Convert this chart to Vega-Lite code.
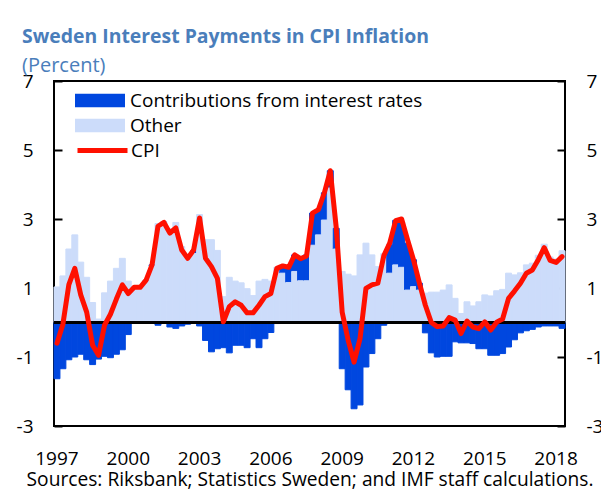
{
  "$schema": "https://vega.github.io/schema/vega-lite/v6.json",
  "width": 511,
  "height": 345,
  "autosize": "none",
  "padding": {"left": 54, "top": 81, "right": 36, "bottom": 65},
  "background": "white",
  "config": {
    "font": "Open Sans",
    "view": {"stroke": "black", "strokeWidth": 2},
    "axis": {"grid": false}
  },
  "title": {
    "text": "Sweden Interest Payments in CPI Inflation",
    "subtitle": "(Percent)",
    "anchor": "start",
    "frame": "group",
    "dx": -32,
    "offset": -5,
    "font": "Open Sans",
    "fontSize": 19.4,
    "fontWeight": "bold",
    "color": "#4A7EBB",
    "subtitleFont": "Open Sans",
    "subtitleFontSize": 20,
    "subtitleColor": "#4A7EBB",
    "subtitlePadding": 9
  },
  "data": {
    "values": [
      {"q": "1997Q1", "rates": -1.63, "other": 1.03, "cpi": -0.6},
      {"q": "1997Q2", "rates": -1.34, "other": 1.35, "cpi": -0.05},
      {"q": "1997Q3", "rates": -1.08, "other": 2.13, "cpi": 1.1},
      {"q": "1997Q4", "rates": -1.0, "other": 2.54, "cpi": 1.57},
      {"q": "1998Q1", "rates": -0.92, "other": 1.75, "cpi": 0.8},
      {"q": "1998Q2", "rates": -1.08, "other": 1.31, "cpi": 0.3},
      {"q": "1998Q3", "rates": -1.22, "other": 0.58, "cpi": -0.66},
      {"q": "1998Q4", "rates": -1.06, "other": 0.1, "cpi": -0.95},
      {"q": "1999Q1", "rates": -0.98, "other": 0.86, "cpi": -0.08},
      {"q": "1999Q2", "rates": -1.02, "other": 1.2, "cpi": 0.24},
      {"q": "1999Q3", "rates": -0.92, "other": 1.57, "cpi": 0.68},
      {"q": "1999Q4", "rates": -0.79, "other": 1.86, "cpi": 1.09},
      {"q": "2000Q1", "rates": -0.35, "other": 1.2, "cpi": 0.84},
      {"q": "2000Q2", "rates": -0.02, "other": 1.05, "cpi": 1.02},
      {"q": "2000Q3", "rates": 0.0, "other": 1.02, "cpi": 1.02},
      {"q": "2000Q4", "rates": 0.02, "other": 1.2, "cpi": 1.23},
      {"q": "2001Q1", "rates": 0.03, "other": 1.64, "cpi": 1.67},
      {"q": "2001Q2", "rates": -0.08, "other": 2.87, "cpi": 2.79},
      {"q": "2001Q3", "rates": 0.0, "other": 2.92, "cpi": 2.9},
      {"q": "2001Q4", "rates": -0.13, "other": 2.72, "cpi": 2.59},
      {"q": "2002Q1", "rates": -0.17, "other": 2.9, "cpi": 2.74},
      {"q": "2002Q2", "rates": -0.1, "other": 2.2, "cpi": 2.1},
      {"q": "2002Q3", "rates": -0.05, "other": 1.9, "cpi": 1.86},
      {"q": "2002Q4", "rates": 0.08, "other": 2.0, "cpi": 2.1},
      {"q": "2003Q1", "rates": -0.1, "other": 3.13, "cpi": 3.03},
      {"q": "2003Q2", "rates": -0.52, "other": 2.4, "cpi": 1.86},
      {"q": "2003Q3", "rates": -0.85, "other": 2.4, "cpi": 1.62},
      {"q": "2003Q4", "rates": -0.76, "other": 2.09, "cpi": 1.28},
      {"q": "2004Q1", "rates": -0.73, "other": 0.75, "cpi": 0.02},
      {"q": "2004Q2", "rates": -0.88, "other": 1.31, "cpi": 0.46},
      {"q": "2004Q3", "rates": -0.66, "other": 1.2, "cpi": 0.6},
      {"q": "2004Q4", "rates": -0.66, "other": 1.15, "cpi": 0.5},
      {"q": "2005Q1", "rates": -0.73, "other": 0.98, "cpi": 0.28},
      {"q": "2005Q2", "rates": -0.47, "other": 0.78, "cpi": 0.28},
      {"q": "2005Q3", "rates": -0.73, "other": 1.2, "cpi": 0.5},
      {"q": "2005Q4", "rates": -0.47, "other": 1.25, "cpi": 0.75},
      {"q": "2006Q1", "rates": -0.29, "other": 1.2, "cpi": 0.84},
      {"q": "2006Q2", "rates": -0.03, "other": 1.6, "cpi": 1.57},
      {"q": "2006Q3", "rates": 0.2, "other": 1.43, "cpi": 1.64},
      {"q": "2006Q4", "rates": 0.46, "other": 1.16, "cpi": 1.6},
      {"q": "2007Q1", "rates": 0.48, "other": 1.48, "cpi": 1.96},
      {"q": "2007Q2", "rates": 0.65, "other": 1.21, "cpi": 1.85},
      {"q": "2007Q3", "rates": 0.75, "other": 1.21, "cpi": 1.93},
      {"q": "2007Q4", "rates": 0.93, "other": 2.24, "cpi": 3.17},
      {"q": "2008Q1", "rates": 0.73, "other": 2.54, "cpi": 3.27},
      {"q": "2008Q2", "rates": 0.79, "other": 2.97, "cpi": 3.76},
      {"q": "2008Q3", "rates": 0.5, "other": 3.9, "cpi": 4.4},
      {"q": "2008Q4", "rates": 0.6, "other": 2.13, "cpi": 2.75},
      {"q": "2009Q1", "rates": -1.34, "other": 1.48, "cpi": 0.3},
      {"q": "2009Q2", "rates": -1.95, "other": 1.4, "cpi": -0.51},
      {"q": "2009Q3", "rates": -2.5, "other": 1.35, "cpi": -1.15},
      {"q": "2009Q4", "rates": -2.39, "other": 1.96, "cpi": -0.47},
      {"q": "2010Q1", "rates": -1.29, "other": 2.3, "cpi": 0.99},
      {"q": "2010Q2", "rates": -0.9, "other": 1.96, "cpi": 1.09},
      {"q": "2010Q3", "rates": -0.47, "other": 1.62, "cpi": 1.14},
      {"q": "2010Q4", "rates": -0.08, "other": 2.0, "cpi": 1.93},
      {"q": "2011Q1", "rates": 0.82, "other": 1.43, "cpi": 2.3},
      {"q": "2011Q2", "rates": 1.29, "other": 1.67, "cpi": 2.95},
      {"q": "2011Q3", "rates": 1.3, "other": 1.6, "cpi": 3.0},
      {"q": "2011Q4", "rates": 1.36, "other": 0.94, "cpi": 2.4},
      {"q": "2012Q1", "rates": 0.78, "other": 1.04, "cpi": 1.82},
      {"q": "2012Q2", "rates": 0.2, "other": 0.94, "cpi": 1.14},
      {"q": "2012Q3", "rates": -0.3, "other": 0.85, "cpi": 0.5},
      {"q": "2012Q4", "rates": -0.88, "other": 0.88, "cpi": 0.0},
      {"q": "2013Q1", "rates": -1.0, "other": 0.88, "cpi": -0.12},
      {"q": "2013Q2", "rates": -0.98, "other": 0.94, "cpi": -0.1},
      {"q": "2013Q3", "rates": -0.98, "other": 1.09, "cpi": 0.14},
      {"q": "2013Q4", "rates": -0.56, "other": 0.7, "cpi": 0.07},
      {"q": "2014Q1", "rates": -0.59, "other": 0.26, "cpi": -0.32},
      {"q": "2014Q2", "rates": -0.59, "other": 0.6, "cpi": 0.04},
      {"q": "2014Q3", "rates": -0.61, "other": 0.48, "cpi": -0.13},
      {"q": "2014Q4", "rates": -0.76, "other": 0.6, "cpi": -0.18},
      {"q": "2015Q1", "rates": -0.76, "other": 0.8, "cpi": 0.02},
      {"q": "2015Q2", "rates": -0.95, "other": 0.77, "cpi": -0.22},
      {"q": "2015Q3", "rates": -0.95, "other": 0.92, "cpi": 0.01},
      {"q": "2015Q4", "rates": -0.9, "other": 0.96, "cpi": 0.1},
      {"q": "2016Q1", "rates": -0.71, "other": 1.43, "cpi": 0.7},
      {"q": "2016Q2", "rates": -0.5, "other": 1.38, "cpi": 0.91},
      {"q": "2016Q3", "rates": -0.3, "other": 1.44, "cpi": 1.14},
      {"q": "2016Q4", "rates": -0.24, "other": 1.67, "cpi": 1.43},
      {"q": "2017Q1", "rates": -0.2, "other": 1.72, "cpi": 1.52},
      {"q": "2017Q2", "rates": -0.13, "other": 1.95, "cpi": 1.82},
      {"q": "2017Q3", "rates": -0.1, "other": 2.27, "cpi": 2.17},
      {"q": "2017Q4", "rates": -0.1, "other": 1.9, "cpi": 1.8},
      {"q": "2018Q1", "rates": -0.1, "other": 1.84, "cpi": 1.74},
      {"q": "2018Q2", "rates": -0.17, "other": 2.08, "cpi": 1.91}
    ]
  },
  "layer": [
    {
      "transform": [{"fold": ["rates", "other"], "as": ["series", "value"]}],
      "mark": {"type": "bar", "strokeWidth": 1},
      "encoding": {
        "x": {
          "field": "q", "type": "ordinal", "sort": null,
          "scale": {"paddingInner": 0, "paddingOuter": 0},
          "axis": {
            "values": ["1997Q1", "2000Q1", "2003Q1", "2006Q1", "2009Q1", "2012Q1", "2015Q1", "2018Q1"],
            "labelExpr": "substring(datum.value, 0, 4)",
            "labelAngle": 0,
            "labelFontSize": 19,
            "labelColor": "black",
            "labelPadding": 23,
            "ticks": false,
            "domain": false,
            "title": "Sources: Riksbank; Statistics Sweden; and IMF staff calculations.",
            "titleFontSize": 19.2,
            "titleFontWeight": "normal",
            "titleColor": "black",
            "titlePadding": 2
          }
        },
        "y": {
          "field": "value", "type": "quantitative", "stack": "zero",
          "scale": {"domain": [-3, 7], "nice": false, "zero": false},
          "axis": {
            "orient": "left",
            "values": [-3, -1, 1, 3, 5, 7],
            "labelExpr": "toString(datum.value)",
            "tickSize": -8,
            "tickWidth": 2,
            "tickColor": "black",
            "labelFontSize": 19,
            "labelColor": "black",
            "labelPadding": 29,
            "domain": false,
            "title": null
          }
        },
        "fill": {
          "field": "series", "type": "nominal",
          "scale": {"domain": ["rates", "other"], "range": ["#0047DF", "#CCDCFA"]},
          "legend": {
            "orient": "none",
            "legendX": 21,
            "legendY": 7,
            "title": null,
            "padding": 0,
            "symbolType": "M-1,-0.27H1V0.27H-1Z",
            "symbolSize": 2500,
            "symbolStrokeWidth": 0,
            "symbolOpacity": 1,
            "clipHeight": 25,
            "rowPadding": 0,
            "labelFontSize": 19,
            "labelColor": "black",
            "labelOffset": 5,
            "labelLimit": 400,
            "labelExpr": "datum.label == 'rates' ? 'Contributions from interest rates' : 'Other'"
          }
        },
        "stroke": {
          "field": "series", "type": "nominal",
          "scale": {"domain": ["rates", "other"], "range": ["#0047DF", "#CCDCFA"]},
          "legend": null
        },
        "order": {"field": "series", "sort": "ascending"}
      }
    },
    {
      "mark": {"type": "rule", "color": "black", "strokeWidth": 2},
      "encoding": {"y": {"datum": 0, "type": "quantitative", "axis": null}}
    },
    {
      "mark": {"type": "line", "strokeWidth": 5, "strokeJoin": "round", "strokeCap": "round"},
      "encoding": {
        "x": {"field": "q", "type": "ordinal", "sort": null},
        "y": {
          "field": "cpi", "type": "quantitative",
          "axis": {
            "orient": "right",
            "values": [-3, -1, 1, 3, 5, 7],
            "labelExpr": "toString(datum.value)",
            "tickSize": -8,
            "tickWidth": 2,
            "tickColor": "black",
            "labelFontSize": 19,
            "labelColor": "black",
            "labelPadding": 29,
            "domain": false,
            "title": null
          }
        },
        "stroke": {
          "datum": "CPI",
          "scale": {"domain": ["CPI"], "range": ["#FF1000"]},
          "legend": {
            "orient": "none",
            "legendX": 21,
            "legendY": 57,
            "title": null,
            "padding": 0,
            "symbolType": "stroke",
            "symbolSize": 2500,
            "symbolStrokeWidth": 5,
            "clipHeight": 25,
            "labelFontSize": 19,
            "labelColor": "black",
            "labelOffset": 1
          }
        }
      }
    }
  ],
  "resolve": {"axis": {"y": "independent"}, "scale": {"stroke": "independent"}, "legend": {"stroke": "independent"}}
}
